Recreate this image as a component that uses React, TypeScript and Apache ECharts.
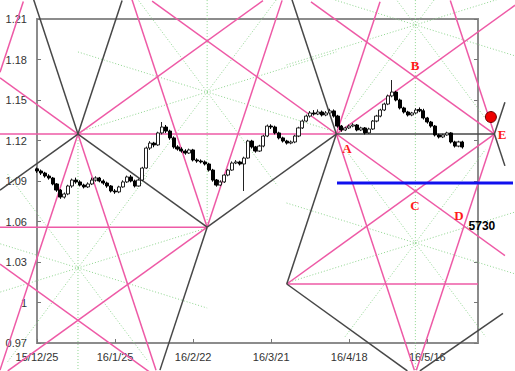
import React, { useEffect, useRef } from 'react';
import * as echarts from 'echarts';

// x = trading-day index from 15/12/25
const xTickDays = [0, 20, 40, 60, 80, 100];
const xTickLabels = ['15/12/25', '16/1/25', '16/2/22', '16/3/21', '16/4/18', '16/5/16'];
const yTicks = [0.97, 1.0, 1.03, 1.06, 1.09, 1.12, 1.15, 1.18, 1.21];

const opens = [
  1.0990, 1.0974, 1.0959, 1.0937, 1.0922, 1.0878, 1.0833, 1.0781, 1.0804, 1.0863,
  1.0907, 1.0893, 1.0870, 1.0856, 1.0878, 1.0907, 1.0922, 1.0900, 1.0885, 1.0863,
  1.0826, 1.0819, 1.0856, 1.0893, 1.0930, 1.0900, 1.0863, 1.0907, 1.0996, 1.1144,
  1.1181, 1.1167, 1.1256, 1.1300, 1.1270, 1.1219, 1.1152, 1.1137, 1.1122, 1.1107,
  1.1130, 1.1056, 1.1048, 1.1041, 1.1026, 1.0981, 1.0907, 1.0870, 1.0893, 1.0944,
  1.0981, 1.1033, 1.1041, 1.1026, 1.1070, 1.1196, 1.1152, 1.1122, 1.1159, 1.1233,
  1.1307, 1.1300, 1.1256, 1.1219, 1.1196, 1.1181, 1.1189, 1.1233, 1.1293, 1.1344,
  1.1381, 1.1404, 1.1396, 1.1411, 1.1389, 1.1404, 1.1419, 1.1381, 1.1307, 1.1278,
  1.1293, 1.1307, 1.1315, 1.1278, 1.1293, 1.1256, 1.1285, 1.1344, 1.1381, 1.1426,
  1.1470, 1.1530, 1.1559, 1.1500, 1.1441, 1.1411, 1.1389, 1.1404, 1.1430, 1.1420,
  1.1367, 1.1337, 1.1307, 1.1241, 1.1226, 1.1241, 1.1256, 1.1189, 1.1159, 1.1189,
];
const closes = [
  1.0974, 1.0959, 1.0937, 1.0922, 1.0878, 1.0833, 1.0781, 1.0804, 1.0863, 1.0907,
  1.0893, 1.0870, 1.0856, 1.0878, 1.0907, 1.0922, 1.0900, 1.0885, 1.0863, 1.0826,
  1.0819, 1.0856, 1.0893, 1.0930, 1.0900, 1.0863, 1.0907, 1.0996, 1.1144, 1.1181,
  1.1167, 1.1256, 1.1300, 1.1270, 1.1219, 1.1152, 1.1137, 1.1122, 1.1107, 1.1130,
  1.1056, 1.1048, 1.1041, 1.1026, 1.0981, 1.0907, 1.0870, 1.0893, 1.0944, 1.0981,
  1.1033, 1.1041, 1.1026, 1.1070, 1.1196, 1.1152, 1.1122, 1.1159, 1.1233, 1.1307,
  1.1300, 1.1256, 1.1219, 1.1196, 1.1181, 1.1189, 1.1233, 1.1293, 1.1344, 1.1381,
  1.1404, 1.1396, 1.1411, 1.1389, 1.1404, 1.1419, 1.1381, 1.1307, 1.1278, 1.1293,
  1.1307, 1.1315, 1.1278, 1.1293, 1.1256, 1.1285, 1.1344, 1.1381, 1.1426, 1.1470,
  1.1530, 1.1559, 1.1500, 1.1441, 1.1411, 1.1389, 1.1404, 1.1426, 1.1420, 1.1367,
  1.1337, 1.1307, 1.1241, 1.1226, 1.1241, 1.1256, 1.1189, 1.1159, 1.1189, 1.1152,
];
const lows = [
  1.0960, 1.0945, 1.0925, 1.0910, 1.0868, 1.0820, 1.0768, 1.0770, 1.0795, 1.0850,
  1.0880, 1.0860, 1.0845, 1.0848, 1.0870, 1.0895, 1.0890, 1.0872, 1.0850, 1.0815,
  1.0805, 1.0810, 1.0850, 1.0885, 1.0890, 1.0852, 1.0858, 1.0900, 1.0990, 1.1130,
  1.1150, 1.1160, 1.1245, 1.1255, 1.1205, 1.1140, 1.1125, 1.1110, 1.1095, 1.1100,
  1.1045, 1.1035, 1.1030, 1.1015, 1.0970, 1.0895, 1.0858, 1.0862, 1.0885, 1.0935,
  1.0975, 1.1025, 1.1015, 1.0826, 1.1065, 1.1140, 1.1110, 1.1115, 1.1150, 1.1225,
  1.1285, 1.1245, 1.1208, 1.1185, 1.1170, 1.1172, 1.1180, 1.1225, 1.1285, 1.1335,
  1.1370, 1.1385, 1.1388, 1.1378, 1.1380, 1.1395, 1.1370, 1.1295, 1.1265, 1.1270,
  1.1285, 1.1298, 1.1268, 1.1270, 1.1245, 1.1250, 1.1278, 1.1335, 1.1372, 1.1418,
  1.1462, 1.1520, 1.1490, 1.1430, 1.1400, 1.1378, 1.1380, 1.1395, 1.1410, 1.1355,
  1.1325, 1.1295, 1.1230, 1.1215, 1.1218, 1.1235, 1.1178, 1.1148, 1.1150, 1.1140,
];
const highs = [
  1.1000, 1.0985, 1.0968, 1.0950, 1.0930, 1.0885, 1.0840, 1.0815, 1.0872, 1.0918,
  1.0925, 1.0905, 1.0880, 1.0890, 1.0925, 1.0935, 1.0930, 1.0912, 1.0895, 1.0870,
  1.0840, 1.0865, 1.0905, 1.0940, 1.0945, 1.0910, 1.0918, 1.1005, 1.1155, 1.1195,
  1.1190, 1.1265, 1.1337, 1.1315, 1.1280, 1.1230, 1.1165, 1.1150, 1.1135, 1.1140,
  1.1138, 1.1068, 1.1060, 1.1052, 1.1035, 1.0990, 1.0915, 1.0905, 1.0952, 1.0990,
  1.1045, 1.1055, 1.1050, 1.1080, 1.1205, 1.1205, 1.1160, 1.1168, 1.1242, 1.1318,
  1.1320, 1.1310, 1.1265, 1.1228, 1.1205, 1.1200, 1.1242, 1.1302, 1.1355, 1.1392,
  1.1418, 1.1425, 1.1430, 1.1422, 1.1418, 1.1435, 1.1430, 1.1390, 1.1315, 1.1302,
  1.1318, 1.1328, 1.1322, 1.1302, 1.1300, 1.1295, 1.1352, 1.1390, 1.1435, 1.1480,
  1.1540, 1.1648, 1.1568, 1.1510, 1.1450, 1.1420, 1.1412, 1.1440, 1.1445, 1.1435,
  1.1375, 1.1345, 1.1315, 1.1250, 1.1250, 1.1265, 1.1262, 1.1198, 1.1198, 1.1198,
];

// Geometric overlay segments, [x1, price1, x2, price2] in chart data units
const darkSegments = [
  [-1.0, 1.2256, 10.5, 1.1248],
  [10.5, 1.1248, 21.8, 1.2237],
  [-9.48, 1.0832, 10.5, 1.1248],
  [10.5, 1.1248, 43.6, 1.0558],
  [43.6, 1.0558, 76.7, 1.1248],
  [31.5, 0.9499, 43.6, 1.0558],
  [65.3, 1.2246, 76.7, 1.1248],
  [76.7, 1.1248, 64.0, 1.0137],
  [64.0, 1.0137, 94.9, 0.9493],
  [98.1, 0.9493, 119.4, 0.9919],
  [76.7, 1.1248, 117.2, 1.1248],
  [117.2, 1.1248, 119.9, 1.1484],
  [117.2, 1.1248, 119.9, 1.1012],
];
const pinkSegments = [
  [-9.48, 1.1248, 76.7, 1.1248],
  [-9.48, 1.0558, 43.6, 1.0558],
  [64.0, 1.0137, 113, 1.0137],
  [-9.48, 1.1664, 10.5, 1.1248],
  [10.5, 1.1248, 57.9, 1.2236],
  [29.5, 1.2232, 119.9, 1.0348],
  [76.7, 1.1248, 122.5, 1.2202],
  [64.0, 1.0137, 117.2, 1.1248],
  [70.2, 1.2227, 117.2, 1.1248],
  [-9.48, 1.0284, 29.0, 0.9482],
  [-7.5, 0.9493, 43.6, 1.0558],
  [-9.48, 1.1706, -3.5, 1.2229],
  [-9.48, 0.9499, 10.5, 1.1248],
  [10.5, 1.1248, 30.5, 0.9498],
  [43.6, 1.0558, 62.8, 1.2238],
  [24.3, 1.2247, 43.6, 1.0558],
  [76.7, 1.1248, 96.7, 0.9498],
  [76.7, 1.1248, 87.9, 1.2228],
  [105.9, 1.2237, 117.2, 1.1248],
  [97.2, 0.9498, 117.2, 1.1248],
];
const greenSegments = [
  [10.5, 1.1248, 10.5, 0.9493],
  [43.6, 1.2240, 43.6, 1.0558],
  [96.95, 1.2240, 96.95, 0.9493],
  [10.5, 1.1262, 76.7, 1.1856],
  [10.5, 1.1856, 76.7, 1.1262],
  [25.6, 1.0865, 61.6, 1.2253],
  [25.6, 1.2253, 61.6, 1.0865],
  [-22.6, 0.9959, 43.6, 1.0553],
  [-22.6, 1.0553, 43.6, 0.9959],
  [-7.5, 0.9562, 28.5, 1.0950],
  [-7.5, 1.0950, 28.5, 0.9562],
  [63.95, 1.1760, 129.95, 1.2352],
  [63.95, 1.2352, 129.95, 1.1760],
  [78.95, 1.1362, 114.95, 1.2750],
  [78.95, 1.2750, 114.95, 1.1362],
  [63.95, 1.0145, 129.95, 1.0737],
  [63.95, 1.0737, 129.95, 1.0145],
  [78.95, 0.9747, 114.95, 1.1135],
  [78.95, 1.1135, 114.95, 0.9747],
];
const blueSegment = [[76.87, 1.0885, 121.97, 1.0885]];
const letterNames = ['A', 'B', 'C', 'D', 'E'];
const letterPoints = [
  [79.4, 1.1144],
  [96.86, 1.1759],
  [96.86, 1.0722],
  [108.1, 1.0648],
  [119.15, 1.1241],
];
const noteText = ['5730'];
const notePoints = [[114.0, 1.0567]];
const markerPoints = [[116.3, 1.1374]];

function lineSeries(data: number[][], stroke: string, width: number, z: number, dash?: number[]) {
  return {
    type: 'custom',
    silent: true,
    clip: false,
    z,
    data,
    encode: { x: [0, 2], y: [1, 3] },
    renderItem: (_p: any, api: any) => {
      const a = api.coord([api.value(0), api.value(1)]);
      const b = api.coord([api.value(2), api.value(3)]);
      return {
        type: 'line',
        shape: { x1: a[0], y1: a[1], x2: b[0], y2: b[1] },
        style: { stroke, lineWidth: width, lineDash: dash || null, fill: null },
      };
    },
  };
}

function textSeries(points: number[][], texts: string[], color: string, font: string, z: number) {
  return {
    type: 'custom',
    silent: true,
    clip: false,
    z,
    data: points,
    encode: { x: 0, y: 1 },
    renderItem: (p: any, api: any) => {
      const c = api.coord([api.value(0), api.value(1)]);
      return {
        type: 'text',
        x: c[0],
        y: c[1],
        style: { text: texts[p.dataIndex], fill: color, font, align: 'center', verticalAlign: 'middle' },
      };
    },
  };
}

export default function App() {
  const ref = useRef<HTMLDivElement>(null);
  useEffect(() => {
    const chart = echarts.init(ref.current!, undefined, { renderer: 'svg' });
    const candles = opens.map((o, i) => [i, o, closes[i], lows[i], highs[i]]);
    const axisFont = { color: '#333', fontSize: 11, fontFamily: 'Liberation Sans, Arial, sans-serif' };
    chart.setOption({
      animation: false,
      backgroundColor: '#fff',
      grid: { left: 37, right: 37, top: 19, bottom: 28, show: true, borderColor: '#8c8c8c', borderWidth: 2 },
      xAxis: {
        type: 'value',
        min: 0,
        max: 113,
        axisLine: { show: false },
        splitLine: { show: false },
        axisTick: { show: true, inside: true, length: 4, customValues: xTickDays, lineStyle: { color: '#777' } },
        axisLabel: {
          ...axisFont,
          margin: 8,
          customValues: xTickDays,
          formatter: (v: number) => xTickLabels[xTickDays.indexOf(Math.round(v))] || '',
        },
      },
      yAxis: [
        {
          type: 'value',
          min: 0.97,
          max: 1.21,
          axisLine: { show: false },
          splitLine: { show: false },
          axisTick: { show: true, inside: true, length: 4, customValues: yTicks, lineStyle: { color: '#777' } },
          axisLabel: {
            ...axisFont,
            margin: 10,
            customValues: yTicks,
            formatter: (v: number) => String(Number(v.toFixed(2))),
          },
        },
        {
          type: 'value',
          position: 'right',
          min: 0.97,
          max: 1.21,
          axisLine: { show: false },
          splitLine: { show: false },
          axisTick: { show: true, inside: true, length: 4, customValues: yTicks, lineStyle: { color: '#777' } },
          axisLabel: { show: false },
        },
      ],
      series: [
        lineSeries(greenSegments, '#8fd68f', 1, 1, [1, 2]),
        lineSeries(pinkSegments, '#ee5aa6', 1.5, 2),
        lineSeries(darkSegments, '#474747', 1.5, 3),
        {
          type: 'candlestick',
          z: 5,
          data: candles,
          encode: { x: 0, y: [1, 2, 3, 4] },
          barWidth: 3.6,
          itemStyle: { color: '#ffffff', color0: '#000000', borderColor: '#222', borderColor0: '#000', borderWidth: 1 },
        },
        lineSeries(blueSegment, '#1010ee', 3, 6),
        {
          type: 'custom',
          silent: true,
          clip: false,
          z: 7,
          data: markerPoints,
          encode: { x: 0, y: 1 },
          renderItem: (_p: any, api: any) => {
            const c = api.coord([api.value(0), api.value(1)]);
            return { type: 'circle', shape: { cx: c[0], cy: c[1], r: 5.5 }, style: { fill: '#ee0000', stroke: '#600', lineWidth: 1 } };
          },
        },
        textSeries(letterPoints, letterNames, '#ff1a1a', 'bold 13px "Liberation Serif", serif', 8),
        textSeries(notePoints, noteText, '#000', 'bold 12px "Liberation Sans", Arial, sans-serif', 8),
      ],
    });
    return () => chart.dispose();
  }, []);
  return <div ref={ref} style={{ position: 'fixed', left: 0, top: 0, width: 515, height: 371, background: '#fff' }} />;
}
